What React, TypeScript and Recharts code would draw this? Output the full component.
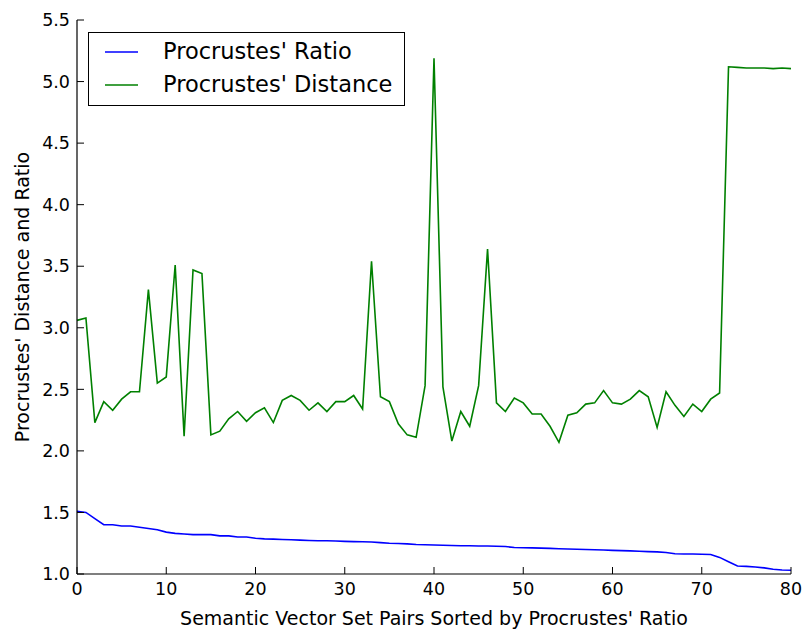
import React from 'react';
import { LineChart, Line, XAxis, YAxis, Legend } from 'recharts';

// Procrustes' ratio (blue) and distance (green), one value per sorted pair 0..80
const RATIO = [
  1.51, 1.50, 1.45, 1.40, 1.40, 1.39, 1.39, 1.38, 1.37, 1.36,
  1.34, 1.33, 1.325, 1.32, 1.32, 1.32, 1.31, 1.31, 1.30, 1.30,
  1.29, 1.285, 1.283, 1.28, 1.278, 1.275, 1.272, 1.27, 1.27, 1.268,
  1.265, 1.263, 1.262, 1.26, 1.255, 1.25, 1.248, 1.245, 1.24, 1.238,
  1.235, 1.233, 1.232, 1.23, 1.23, 1.228, 1.227, 1.225, 1.223, 1.215,
  1.213, 1.212, 1.21, 1.208, 1.205, 1.203, 1.201, 1.199, 1.197, 1.195,
  1.192, 1.19, 1.188, 1.185, 1.182, 1.18, 1.175, 1.165, 1.163, 1.162,
  1.16, 1.158, 1.135, 1.10, 1.065, 1.062, 1.057, 1.05, 1.038, 1.033,
  1.03,
];

const DISTANCE = [
  3.06, 3.08, 2.23, 2.40, 2.33, 2.42, 2.48, 2.48, 3.31, 2.55,
  2.60, 3.51, 2.12, 3.47, 3.44, 2.13, 2.16, 2.26, 2.32, 2.24,
  2.31, 2.35, 2.23, 2.41, 2.45, 2.41, 2.33, 2.39, 2.32, 2.40,
  2.40, 2.45, 2.34, 3.54, 2.44, 2.40, 2.22, 2.13, 2.11, 2.53,
  5.19, 2.52, 2.08, 2.32, 2.20, 2.53, 3.64, 2.39, 2.32, 2.43,
  2.39, 2.30, 2.30, 2.20, 2.07, 2.29, 2.31, 2.38, 2.39, 2.49,
  2.39, 2.38, 2.42, 2.49, 2.44, 2.19, 2.48, 2.37, 2.28, 2.38,
  2.32, 2.42, 2.47, 5.12, 5.115, 5.11, 5.11, 5.11, 5.105, 5.11,
  5.105,
];

const X_TICKS = [0, 10, 20, 30, 40, 50, 60, 70, 80];
const Y_TICKS = [1.0, 1.5, 2.0, 2.5, 3.0, 3.5, 4.0, 4.5, 5.0, 5.5];

const SERIES = [
  { key: 'ratio', name: "Procrustes' Ratio", color: '#0000ff' },
  { key: 'distance', name: "Procrustes' Distance", color: '#008000' },
];

const data = RATIO.map((r, i) => ({ idx: i, ratio: r, distance: DISTANCE[i] }));

const FONT = '"DejaVu Sans", sans-serif';
const TICK_LEN = 7;
const X_GAP = 9;
const Y_GAP = 7;

const BottomTick = (props: any) => {
  const { x, y, payload } = props;
  const base = y - X_GAP;
  return (
    <g>
      <line x1={x} x2={x} y1={base} y2={base - TICK_LEN} stroke="#000" strokeWidth={1} />
      <text x={x} y={y} dy="0.71em" textAnchor="middle" fill="#000" fontSize={17.5} fontFamily={FONT}>
        {payload.value}
      </text>
    </g>
  );
};

const LeftTick = (props: any) => {
  const { x, y, payload } = props;
  const base = x + Y_GAP;
  return (
    <g>
      <line x1={base} x2={base + TICK_LEN} y1={y} y2={y} stroke="#000" strokeWidth={1} />
      <text x={x} y={y} dy="0.355em" textAnchor="end" fill="#000" fontSize={17.5} fontFamily={FONT}>
        {Number(payload.value).toFixed(1)}
      </text>
    </g>
  );
};

const TopTick = (props: any) => {
  const { x, y } = props;
  return <line x1={x} x2={x} y1={y} y2={y + TICK_LEN} stroke="#000" strokeWidth={1} />;
};

const RightTick = (props: any) => {
  const { x, y } = props;
  return <line x1={x} x2={x - TICK_LEN} y1={y} y2={y} stroke="#000" strokeWidth={1} />;
};

const YLabel = (props: any) => {
  const { viewBox } = props;
  const cx = viewBox.x + 29;
  const cy = viewBox.y + viewBox.height / 2;
  return (
    <text x={cx} y={cy} transform={`rotate(-90, ${cx}, ${cy})`} textAnchor="middle" fill="#000" fontSize={19} fontFamily={FONT}>
      Procrustes' Distance and Ratio
    </text>
  );
};

const LegendBox = () => (
  <div
    style={{
      width: 317,
      height: 74,
      boxSizing: 'border-box',
      border: '1.3px solid #000',
      background: '#fff',
      paddingTop: 2,
      fontFamily: FONT,
      fontSize: 22.5,
      color: '#000',
    }}
  >
    {SERIES.map((s) => (
      <div key={s.key} style={{ display: 'flex', alignItems: 'center', height: 33 }}>
        <svg width={33} height={4} style={{ marginLeft: 16, marginRight: 25, flex: 'none' }}>
          <line x1={0} x2={33} y1={2} y2={2} stroke={s.color} strokeWidth={1.6} />
        </svg>
        <span style={{ lineHeight: '33px', whiteSpace: 'nowrap' }}>{s.name}</span>
      </div>
    ))}
  </div>
);

export default function App() {
  return (
    <div style={{ width: 804, height: 629, background: '#fff' }}>
      <style>{`body{margin:0;}`}</style>
      <LineChart width={804} height={629} data={data} margin={{ top: 20, right: 13, left: 0, bottom: 0 }}>
        <XAxis
          xAxisId="bottom"
          dataKey="idx"
          type="number"
          domain={[0, 80]}
          ticks={X_TICKS}
          height={55}
          tickSize={0}
          tickMargin={X_GAP}
          tickLine={false}
          axisLine={{ stroke: '#000', strokeWidth: 1.2 }}
          tick={<BottomTick />}
          interval={0}
          label={{
            value: "Semantic Vector Set Pairs Sorted by Procrustes' Ratio",
            position: 'insideBottom',
            offset: 4,
            fill: '#000',
            fontSize: 19,
            fontFamily: FONT,
          }}
        />
        <XAxis
          xAxisId="top"
          orientation="top"
          dataKey="idx"
          type="number"
          domain={[0, 80]}
          ticks={X_TICKS}
          height={0}
          tickSize={0}
          tickMargin={0}
          tickLine={false}
          axisLine={{ stroke: '#000', strokeWidth: 1.2 }}
          tick={<TopTick />}
          interval={0}
        />
        <YAxis
          yAxisId="left"
          type="number"
          domain={[1, 5.5]}
          ticks={Y_TICKS}
          width={77}
          tickSize={0}
          tickMargin={Y_GAP}
          tickLine={false}
          axisLine={{ stroke: '#000', strokeWidth: 1.2 }}
          tick={<LeftTick />}
          interval={0}
          label={<YLabel />}
        />
        <YAxis
          yAxisId="right"
          orientation="right"
          type="number"
          domain={[1, 5.5]}
          ticks={Y_TICKS}
          width={0}
          tickSize={0}
          tickMargin={0}
          tickLine={false}
          axisLine={{ stroke: '#000', strokeWidth: 1.2 }}
          tick={<RightTick />}
          interval={0}
        />
        <Legend
          layout="vertical"
          align="center"
          verticalAlign="middle"
          wrapperStyle={{ top: 32, left: 88, width: 317, height: 74 }}
          content={<LegendBox />}
        />
        {SERIES.map((s) => (
          <Line
            key={s.key}
            xAxisId="bottom"
            yAxisId="left"
            type="linear"
            dataKey={s.key}
            name={s.name}
            stroke={s.color}
            strokeWidth={1.6}
            dot={false}
            activeDot={false}
            isAnimationActive={false}
          />
        ))}
      </LineChart>
    </div>
  );
}
